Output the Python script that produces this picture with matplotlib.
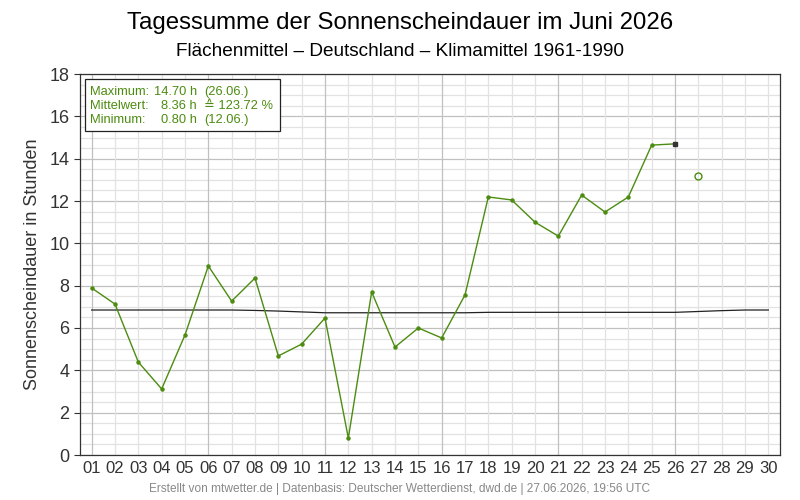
import matplotlib
matplotlib.use("Agg")
import matplotlib.pyplot as plt
from matplotlib.patches import Rectangle
from matplotlib.ticker import MultipleLocator

plt.rcParams['font.family'] = ['Liberation Sans', 'DejaVu Sans']

# daily sunshine sums (h), days 1-26 observed, day 27 estimate
days = list(range(1, 27))
sonne = [7.89, 7.13, 4.39, 3.12, 5.67, 8.93, 7.27, 8.36, 4.68, 5.24,
         6.47, 0.80, 7.70, 5.10, 6.00, 5.53, 7.56, 12.19, 12.05, 11.00,
         10.34, 12.28, 11.48, 12.19, 14.64, 14.70]
tag_prognose = 27
wert_prognose = 13.18

# climate mean 1961-1990, days 1-30
klima_tage = list(range(1, 31))
klima = [6.85, 6.85, 6.85, 6.85, 6.85, 6.85, 6.85, 6.83, 6.80, 6.76,
         6.72, 6.72, 6.72, 6.72, 6.72, 6.72, 6.72, 6.74, 6.74, 6.74,
         6.74, 6.74, 6.74, 6.74, 6.74, 6.74, 6.78, 6.82, 6.85, 6.85]

tick_labels = ["%02d" % d for d in klima_tage]

gruen = '#4c8c10'

fig = plt.figure(figsize=(8, 5), dpi=100)
ax = fig.add_axes([0.1, 0.09, 0.875, 0.762])

ax.plot(klima_tage, klima, color='#222222', lw=0.9, zorder=3)
ax.plot(days, sonne, color=gruen, lw=1.0, marker='o', ms=2.2, zorder=4)
ax.plot(days[-1], sonne[-1], 's', color='#333333', ms=2.5, zorder=5)
ax.plot(tag_prognose, wert_prognose, 'o', mfc='none', mec=gruen, ms=5, mew=1, zorder=5)

ax.set_xlim(0.5, 30.5)
ax.set_ylim(0, 18)
ax.set_xticks(klima_tage)
ax.set_xticklabels(tick_labels)
ax.yaxis.set_major_locator(MultipleLocator(2))
ax.yaxis.set_minor_locator(MultipleLocator(0.5))

# grid: darker every 5 days / 2 h, lighter in between
for d in klima_tage:
    c = '#c0c0c0' if (d - 1) % 5 == 0 else '#e2e2e2'
    ax.axvline(d, color=c, lw=0.9, zorder=1)
ax.grid(axis='y', which='major', color='#c0c0c0', lw=0.9, zorder=1)
ax.grid(axis='y', which='minor', color='#e2e2e2', lw=0.9, zorder=1)
ax.set_axisbelow(True)

ax.tick_params(axis='x', length=0, labelsize=12, colors='#333333', pad=4)
ax.tick_params(axis='y', which='major', length=4, labelsize=13, colors='#333333')
ax.tick_params(axis='y', which='minor', length=0)
for s in ax.spines.values():
    s.set_color('#333333')
    s.set_linewidth(0.9)

ax.set_ylabel('Sonnenscheindauer in Stunden', fontsize=13, color='#333333', labelpad=6)

fig.text(0.5, 0.955, 'Tagessumme der Sonnenscheindauer im Juni 2026', ha='center', va='center', fontsize=17.3)
fig.text(0.5, 0.897, 'Flächenmittel – Deutschland – Klimamittel 1961-1990', ha='center', va='center', fontsize=13.7)
fig.text(0.5, 0.022, 'Erstellt von mtwetter.de | Datenbasis: Deutscher Wetterdienst, dwd.de | 27.06.2026, 19:56 UTC',
         ha='center', va='center', fontsize=8.6, color='#888888')

# statistics box
ax.add_patch(Rectangle((0.007, 0.850), 0.279, 0.137, transform=ax.transAxes, fill=True,
                       facecolor='white', edgecolor='#222222', lw=0.9, zorder=6))
zeilen = [('Maximum:', '14.70 h', '(26.06.)'),
          ('Mittelwert:', '8.36 h', '≙ 123.72 %'),
          ('Minimum:', '0.80 h', '(12.06.)')]
for i, (a, b, c) in enumerate(zeilen):
    y = 0.953 - i * 0.0365
    kw = dict(transform=ax.transAxes, va='center', fontsize=9.3, color=gruen, zorder=7)
    ax.text(0.0143, y, a, ha='left', **kw)
    ax.text(0.167, y, b, ha='right', **kw)
    ax.text(0.177, y, c, ha='left', **kw)

fig.savefig('out.png', dpi=100)
